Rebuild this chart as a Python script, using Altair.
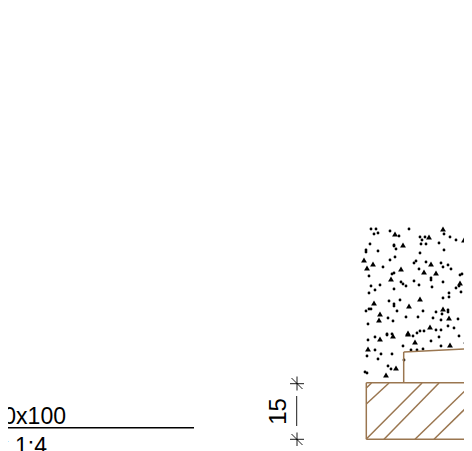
import altair as alt
import pandas as pd

# stipple (image-pixel coordinates of a drawing)
small_x = [371,376,374,378,390,409,399,420,422,425,421,426,370,366,366,378,394,394,396,439,444,450,456,444,420,395,390,383,414,416,426,419,441,443,448,451,467,469,369,394,392,414,401,403,406,419,431,431,432,443,460,462,459,456,461,467,371,380,375,369,394,449,449,443,389,394,394,400,397,366,369,371,388,393,406,418,423,433,436,442,448,448,441,458,467,467,448,454,368,420,424,436,441,387,392,
           368,375,387,417,413,439,431,459,465,471,403,411,417,423,441,375,367,381,392,378,404,388,391,365,367]
small_y = [229,229,234,233,231,229,236,237,240,237,244,244,244,250,252,251,245,246,249,243,234,237,240,250,253,257,260,267,263,261,262,269,263,267,265,269,263,263,276,273,274,281,282,284,286,285,278,280,287,282,275,274,286,288,292,295,286,285,290,293,289,293,297,298,301,304,306,300,311,311,309,309,318,321,317,317,311,318,312,314,310,312,320,319,309,327,326,328,324,331,331,330,330,334,334,
           340,337,335,333,336,337,341,336,343,342,346,350,350,349,346,350,356,354,354,359,360,366,369,372,373]
tri_x = [395,403,429,443,468,464,470,364,373,367,401,424,431,436,391,470,460,420,374,409,443,449,380,379,430,408,
         408,380,393,415,450,368,396,386]
tri_y = [234,245,237,229,227,240,248,260,264,268,269,272,264,273,279,276,283,299,303,306,309,318,314,320,327,333,
         334,339,336,342,345,349,368,375]

# outline and hatching segments
seg_x1 = [366.3,366.3,366.3,403.7,403.7,366.3,384,415,434,468,366.3,366.3]
seg_y1 = [382.7,439.3,382.7,382.7,352,439,439.3,439.3,439.3,439.3,404,388]
seg_x2 = [472,472,366.3,403.7,472,422,439,472,472,472,389,371.5]
seg_y2 = [382.7,439.3,439.3,352,348.5,383,383,384,402,436,383,383]

# dimension
dim_x1 = [296.7,297,290,291.5,297,290,291.5]
dim_y1 = [396,376.5,383.7,378,432.5,439.3,434]
dim_x2 = [296.7,297,304,302.5,297,304,302.5]
dim_y2 = [426,390.5,383.7,389,446,439.3,445]

# underline
und_x1 = [8]
und_y1 = [427.7]
und_x2 = [194]
und_y2 = [427.7]

txt = ["100x100", "x 1:4"]
txt_x = [66, 47]
txt_y = [424, 454]

X = alt.Scale(domain=[8, 464], nice=False, zero=False)
Y = alt.Scale(domain=[451, 8], nice=False, zero=False)
x_ = lambda f: alt.X(f, type="quantitative", scale=X, axis=None)
y_ = lambda f: alt.Y(f, type="quantitative", scale=Y, axis=None)
df = lambda a, b, c=None, d=None: pd.DataFrame({"a": a, "b": b, **({"c": c, "d": d} if c else {})})

def rules(a, b, c, d, color, w):
    return alt.Chart(df(a, b, c, d)).mark_rule(color=color, strokeWidth=w).encode(
        x=x_("a"), y=y_("b"), x2="c:Q", y2="d:Q")

dots = alt.Chart(df(small_x, small_y)).mark_circle(color="black", size=8, opacity=1).encode(x=x_("a"), y=y_("b"))
tris = alt.Chart(df(tri_x, tri_y)).mark_point(shape="triangle-up", filled=True, color="black", size=34, opacity=1).encode(x=x_("a"), y=y_("b"))
brown = rules(seg_x1, seg_y1, seg_x2, seg_y2, "#9a7650", 1.5)
dim = rules(dim_x1, dim_y1, dim_x2, dim_y2, "black", 0.9)
und = rules(und_x1, und_y1, und_x2, und_y2, "black", 1.5)
labels = alt.Chart(pd.DataFrame({"t": txt, "a": txt_x, "b": txt_y})).mark_text(
    font="Liberation Sans", fontSize=23, align="right", baseline="alphabetic", color="black"
).encode(x=x_("a"), y=y_("b"), text="t:N")
fifteen = alt.Chart(pd.DataFrame({"t": ["15"], "a": [286], "b": [411.5]})).mark_text(
    font="Liberation Sans", fontSize=24, align="center", baseline="alphabetic", angle=270, color="black"
).encode(x=x_("a"), y=y_("b"), text="t:N")

chart = alt.layer(dots, tris, brown, dim, und, labels, fifteen).properties(
    width=456, height=443, padding=0, autosize=alt.AutoSizeParams(type="none"),
    background="white"
).configure_view(stroke=None)

chart.save("out.html", embed_options={"renderer": "svg", "actions": False})
